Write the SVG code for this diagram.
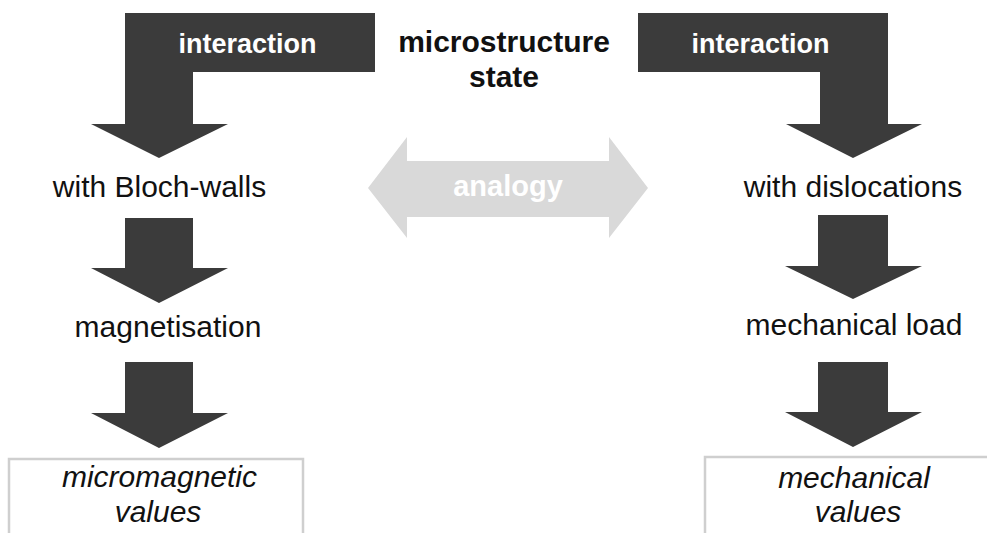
<svg xmlns="http://www.w3.org/2000/svg" width="987" height="533" viewBox="0 0 987 533">
<style>
.arr{fill:#3b3b3b}
.lbl{font-family:"Liberation Sans",Arial,sans-serif;font-size:30px;fill:#111;text-anchor:middle}
.it{font-style:italic}
.bw{font-family:"Liberation Sans",Arial,sans-serif;font-weight:bold;fill:#fff;text-anchor:middle}
.box{fill:#fff;stroke:#cfcfcf;stroke-width:2.5}
</style>
<rect width="987" height="533" fill="#fff"/>
<g id="connectors">
<path class="arr" d="M125,13 H375 V72 H193 V124 H228 L159,158 L91,124 H125 Z"/>
<path class="arr" d="M638,13 H888 V124 H922 L853,158 L786,124 H820 V72 H638 Z"/>
<path class="arr" d="M125,218 H193 V268 H228 L159,303 L91,268 H125 Z"/>
<path class="arr" d="M125,362 H193 V413 H228 L159,448 L91,413 H125 Z"/>
<path class="arr" d="M818,215 H888 V266 H922 L853,299 L785,266 H818 Z"/>
<path class="arr" d="M818,362 H888 V412 H922 L853,447 L785,412 H818 Z"/>
<path fill="#d9d9d9" d="M368,188 L407,137 V161 H609 V137 L648,188 L609,238 V217 H407 V238 Z"/>
<text class="bw" x="247.5" y="53" font-size="27">interaction</text>
<text class="bw" x="760.5" y="53" font-size="27">interaction</text>
<text class="bw" x="508" y="196" font-size="29" fill="#f4f4f4">analogy</text>
</g>
<g id="microstructure">
<text class="lbl" x="504" y="52" font-weight="bold">microstructure</text>
<text class="lbl" x="504" y="87" font-weight="bold">state</text>
</g>
<g id="bloch">
<text class="lbl" x="159.5" y="197">with Bloch-walls</text>
</g>
<g id="magnetisation">
<text class="lbl" x="168" y="337">magnetisation</text>
</g>
<g id="micromagnetic">
<rect class="box" x="9" y="459" width="294" height="90"/>
<text class="lbl it" x="159.5" y="487">micromagnetic</text>
<text class="lbl it" x="158" y="522">values</text>
</g>
<g id="dislocations">
<text class="lbl" x="853" y="197">with dislocations</text>
</g>
<g id="load">
<text class="lbl" x="854" y="335">mechanical load</text>
</g>
<g id="mechanical">
<rect class="box" x="705" y="457" width="300" height="90"/>
<text class="lbl it" x="854" y="488">mechanical</text>
<text class="lbl it" x="858" y="522">values</text>
</g>
</svg>
